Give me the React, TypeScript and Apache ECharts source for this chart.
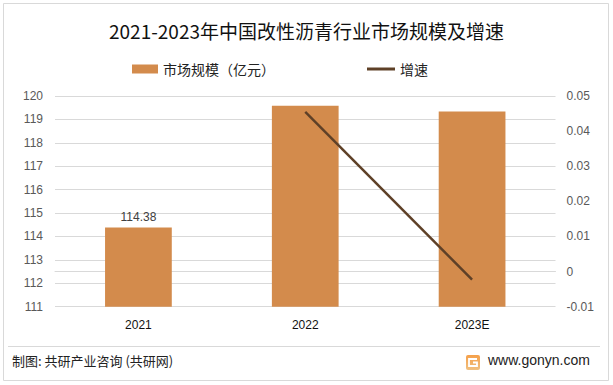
import React, { useEffect, useRef } from "react";
import * as echarts from "echarts";

const categories = ["2021", "2022", "2023E"];
const marketSize = [114.38, 119.58, 119.34];
const growth = [null, 0.0455, -0.0023];
const leftTicks = { min: 111, max: 120, interval: 1 };
const rightTicks = { min: -0.01, max: 0.05, interval: 0.01 };

const FONT = "'Liberation Sans', 'Noto Sans CJK SC', sans-serif";

export default function App() {
  const ref = useRef<HTMLDivElement>(null);
  useEffect(() => {
    if (!ref.current) return;
    const chart = echarts.init(ref.current, undefined, { renderer: "svg" });
    chart.setOption({
      animation: false,
      backgroundColor: "#ffffff",
      textStyle: { fontFamily: FONT },
      title: {
        text: "2021-2023年中国改性沥青行业市场规模及增速",
        left: "center",
        top: 16,
        textStyle: { fontSize: 19, fontWeight: "normal", color: "#111", fontFamily: "'Noto Sans CJK SC', sans-serif" },
      },
      legend: [
        {
          left: 127,
          top: 57,
          itemWidth: 26,
          itemHeight: 9,
          itemGap: 4,
          textStyle: { fontSize: 14, color: "#222", fontFamily: "'Noto Sans CJK SC', sans-serif" },
          data: [{ name: "市场规模（亿元）", icon: "rect" }],
        },
        {
          left: 362,
          top: 57,
          itemWidth: 28,
          itemHeight: 3,
          itemGap: 4,
          textStyle: { fontSize: 14, color: "#222", fontFamily: "'Noto Sans CJK SC', sans-serif" },
          data: [{ name: "增速", icon: "rect" }],
        },
      ],
      grid: { left: 55, right: 57.5, top: 96, bottom: 78.3 },
      xAxis: {
        type: "category",
        data: categories,
        axisTick: { show: false },
        axisLine: { lineStyle: { color: "#d9d9d9" } },
        axisLabel: { fontSize: 12, color: "#111", margin: 12 },
      },
      yAxis: [
        {
          type: "value",
          min: leftTicks.min,
          max: leftTicks.max,
          interval: leftTicks.interval,
          axisLine: { show: false },
          axisTick: { show: false },
          splitLine: { lineStyle: { color: "#d9d9d9" } },
          axisLabel: { fontSize: 12, color: "#595959", margin: 12 },
        },
        {
          type: "value",
          min: rightTicks.min,
          max: rightTicks.max,
          interval: rightTicks.interval,
          axisLine: { show: false },
          axisTick: { show: false },
          splitLine: { show: false },
          axisLabel: {
            fontSize: 12,
            color: "#595959",
            margin: 11,
            formatter: (v: number) => String(Number(v.toFixed(2))),
          },
        },
      ],
      series: [
        {
          name: "市场规模（亿元）",
          type: "bar",
          data: marketSize.map((v, i) => ({
            value: v,
            label: { show: i === 0 },
          })),
          barWidth: "40%",
          itemStyle: { color: "#d38b4c" },
          label: {
            position: "top",
            fontSize: 12,
            color: "#404040",
            distance: 5,
            formatter: (p: any) => p.value.toFixed(2),
          },
        },
        {
          name: "增速",
          type: "line",
          yAxisIndex: 1,
          data: growth,
          symbol: "none",
          lineStyle: { color: "#5e4027", width: 2.5 },
          itemStyle: { color: "#5e4027" },
        },
      ],
      graphic: [
        {
          type: "rect",
          shape: { x: 3.5, y: 3.5, width: 605, height: 377 },
          style: { fill: "none", stroke: "#d9d9d9", lineWidth: 1 },
          silent: true,
        },
        {
          type: "line",
          shape: { x1: 8, y1: 346.5, x2: 600, y2: 346.5 },
          style: { stroke: "#d9d9d9", lineWidth: 1 },
        },
        {
          type: "text",
          left: 12,
          top: 354,
          style: {
            text: "制图: 共研产业咨询 (共研网)",
            fontSize: 13,
            fill: "#222",
            fontFamily: "'Noto Sans CJK SC', sans-serif",
          },
        },
        {
          type: "rect",
          shape: { x: 466, y: 355, width: 14, height: 15, r: 2 },
          style: {
            fill: new echarts.graphic.LinearGradient(0, 0, 0, 1, [
              { offset: 0, color: "#f5a04a" },
              { offset: 1, color: "#f0c080" },
            ]),
          },
        },
        {
          type: "polyline",
          shape: { points: [[477, 359], [469, 359], [469, 366], [477, 366], [477, 362.5], [473, 362.5]] },
          style: { stroke: "#ffffff", lineWidth: 1.8, fill: "none" },
        },
        {
          type: "text",
          left: 488,
          top: 353,
          style: { text: "www.gonyn.com", fontSize: 14, fill: "#222", fontFamily: FONT },
        },
      ],
    });
    return () => chart.dispose();
  }, []);
  return <div ref={ref} style={{ position: "fixed", left: 0, top: 0, width: 613, height: 385 }} />;
}
